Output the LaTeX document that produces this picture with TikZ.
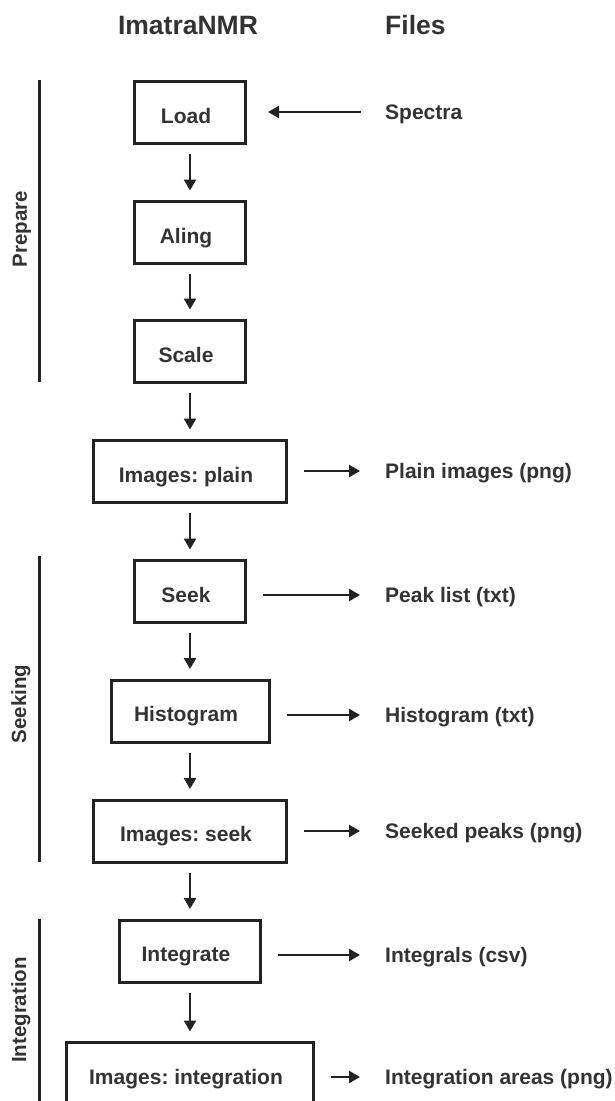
\documentclass[tikz,border=0pt]{standalone}
\usepackage{fontspec}
\setmainfont{Liberation Sans}
\usetikzlibrary{arrows.meta}
\definecolor{ink}{HTML}{222222}
\definecolor{txt}{HTML}{333333}
\frenchspacing
\begin{document}
\begin{tikzpicture}[x=1pt,y=-1pt,
  stepbox/.style={draw=ink, line width=3pt, minimum width=#1, minimum height=62pt,
    inner sep=0pt, text height=21pt, text depth=0pt, text=txt,
    font=\fontsize{21}{25}\selectfont\bfseries,
    execute at end node={\hspace*{8pt}}},
  stepbox/.default=111pt,
  filelab/.style={anchor=west, inner sep=0pt, text height=15pt, text depth=0pt, text=txt,
    font=\fontsize{21}{25}\selectfont\bfseries},
  hdr/.style={inner sep=0pt, text=txt, font=\fontsize{26.5}{30}\selectfont\bfseries},
  sidelab/.style={inner sep=0pt, rotate=90, anchor=base, text=txt,
    font=\fontsize{20.5}{24}\selectfont\bfseries},
  arr/.style={draw=ink, line width=2.4pt, -{Triangle[length=11pt,width=12pt]}},
  vbar/.style={draw=ink, line width=3pt}]
\useasboundingbox (0,0) rectangle (615,1101);
\clip (0,0) rectangle (615,1101);

% headers
\node[hdr, anchor=base] (h1) at (188,34) {ImatraNMR};
\node[hdr, anchor=base west] (h2) at (385,34) {Files};

% phase bars and labels
\draw[vbar] (39,80) -- (39,382);
\draw[vbar] (39,556) -- (39,862);
\draw[vbar] (39,919) -- (39,1101);
\node[sidelab] (prep) at (27,229) {Prepare};
\node[sidelab] (seekl) at (26,704) {Seeking};
\node[sidelab] (intl) at (26,1010) {Integration};

% process boxes
\node[stepbox] (load) at (190,112.5) {Load};
\node[stepbox] (aling) at (190,232.5) {Aling};
\node[stepbox] (scale) at (190,351.5) {Scale};
\node[stepbox=193pt] (plain) at (190,471.5) {Images: plain};
\node[stepbox] (seek) at (190,591.5) {Seek};
\node[stepbox=158pt] (hist) at (190,711) {Histogram};
\node[stepbox=193pt] (iseek) at (190,831) {Images: seek};
\node[stepbox=141pt] (integ) at (190,951) {Integrate};
\node[stepbox=247pt] (iint) at (190,1073.5) {Images: integration};

% file labels
\node[filelab] (spectra) at (385,112) {Spectra};
\node[filelab] (fplain) at (385,471) {Plain images (png)};
\node[filelab] (fpeak) at (385,595) {Peak list (txt)};
\node[filelab] (fhist) at (385,715) {Histogram (txt)};
\node[filelab] (fseek) at (385,831) {Seeked peaks (png)};
\node[filelab] (fint) at (385,955) {Integrals (csv)};
\node[filelab] (farea) at (385,1077) {Integration areas (png)};

% vertical flow
\foreach \a/\b in {load/aling, aling/scale, scale/plain, plain/seek, seek/hist, hist/iseek, iseek/integ, integ/iint}
  \draw[arr, shorten <=9pt, shorten >=9.5pt] (\a) -- (\b);

% input arrow
\draw[arr, shorten <=24pt, shorten >=21pt] (spectra.west) -- (load.east |- spectra.west);

% output arrows
\foreach \a/\b in {plain/fplain, seek/fpeak, hist/fhist, iseek/fseek, integ/fint, iint/farea}
  \draw[arr, shorten <=16pt, shorten >=25pt] (\a.east |- \b.west) -- (\b.west);
\end{tikzpicture}
\end{document}
